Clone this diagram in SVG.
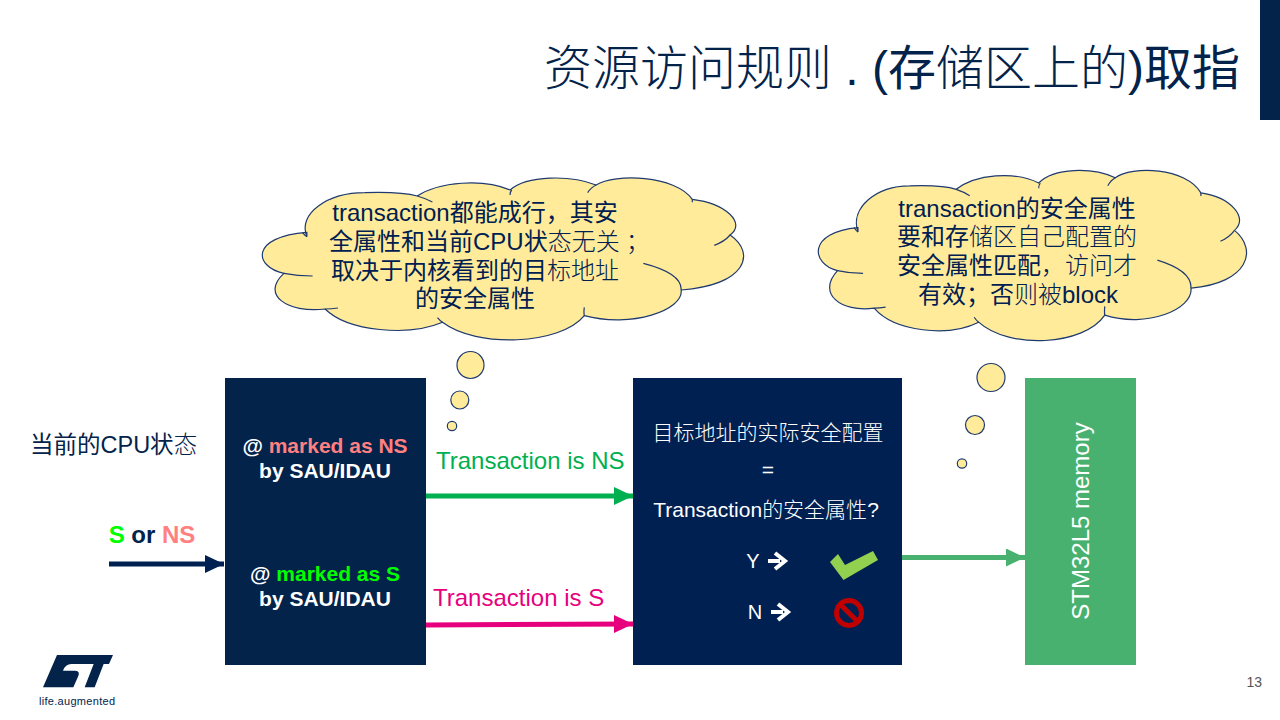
<svg xmlns="http://www.w3.org/2000/svg" xmlns:xlink="http://www.w3.org/1999/xlink" width="1280" height="720" viewBox="0 0 1280 720">
<style>
text{font-family:"Liberation Sans","Noto Sans CJK SC",sans-serif}
.c{font-size:24px;fill:#002052;text-anchor:middle}
.w{fill:#fff;text-anchor:middle}.b{font-weight:700}
.t{font-weight:300}
.cl{fill:#ffeb99;stroke:#1f3a70;stroke-width:1.2px;vector-effect:non-scaling-stroke}
.bu{fill:#ffeb99;stroke:#1f3a70;stroke-width:1.2}
.in{fill:none;stroke:#1f3a70;stroke-width:1.2px;vector-effect:non-scaling-stroke}
.ar{fill:none}
</style>
<defs>
<marker id="hg" markerUnits="userSpaceOnUse" markerWidth="20" markerHeight="20" refX="19" refY="9" orient="auto"><path d="M0 0L19 9L0 18z" fill="#00b050"/></marker>
<marker id="hm" markerUnits="userSpaceOnUse" markerWidth="20" markerHeight="20" refX="19" refY="9" orient="auto"><path d="M0 0L19 9L0 18z" fill="#e6007e"/></marker>
<marker id="hn" markerUnits="userSpaceOnUse" markerWidth="20" markerHeight="20" refX="19" refY="9" orient="auto"><path d="M0 0L19 9L0 18z" fill="#002052"/></marker>
<marker id="hs" markerUnits="userSpaceOnUse" markerWidth="20" markerHeight="20" refX="19" refY="9" orient="auto"><path d="M0 0L19 9L0 18z" fill="#49b170"/></marker>
<g id="cloud">
<path class="cl" d="M178 200C150 130 240 68 350 68C420 66 470 68 505 78C570 35 700 25 780 60C830 15 960 15 1035 45C1090 10 1270 15 1320 88C1420 100 1480 160 1432 195C1510 250 1480 345 1287 360C1295 420 1140 475 1000 437C930 525 680 535 580 457C480 500 300 485 232 417C120 430 40 375 110 310C20 290 10 200 178 187Z"/>
<path class="in" d="M165 187Q170 195 178 200M505 78Q530 85 550 96M780 75Q780 65 785 60M1010 68Q1020 52 1035 45M1320 88L1320 97M1432 195Q1415 215 1385 226M1175 280Q1290 310 1287 360M1000 412Q998 428 1000 437M565 443Q572 452 580 457M232 417Q250 417 270 414M110 310Q150 318 195 318"/>
</g>
</defs>
<rect width="1280" height="720" fill="#fff"/>
<rect x="1260" width="20" height="120" fill="#03234b"/>
<text x="1240" y="85" text-anchor="end" font-size="48" fill="#03234b"><tspan class="t">资源访问规则 . (</tspan><tspan>存</tspan><tspan class="t">储区上的</tspan><tspan>)取指</tspan></text>

<g id="cloud-left">
<use xlink:href="#cloud" transform="translate(246.800 170) scale(.3375 .3333)"/>
<circle class="bu" cx="470.500" cy="365" r="13.500"/><circle class="bu" cx="459.800" cy="400" r="9"/><circle class="bu" cx="452" cy="426" r="4.700"/>
<text class="c"><tspan x="475" y="221">transaction都能成行，其安</tspan><tspan x="329" y="250" text-anchor="start">全属性和当前CPU状<tspan class="t">态无关</tspan><tspan class="t" dx="6">；</tspan></tspan><tspan x="475" y="279">取决于内核看到的目<tspan class="t">标地址</tspan></tspan><tspan x="475" y="307">的安全属性</tspan></text>
</g>
<g id="cloud-right">
<use xlink:href="#cloud" transform="translate(804.500 162) scale(.3003 .3505)"/>
<circle class="bu" cx="991" cy="377.500" r="14"/><circle class="bu" cx="975" cy="425" r="9.500"/><circle class="bu" cx="962" cy="463.500" r="4.700"/>
<text class="c"><tspan x="1017" y="217">transaction的安全属性</tspan><tspan x="1017" y="245">要和存<tspan class="t">储区自己配置的</tspan></tspan><tspan x="1017" y="274">安全属性匹配<tspan class="t">，访问才</tspan></tspan><tspan x="918" y="303" text-anchor="start">有效；否<tspan class="t">则被</tspan>block</tspan></text>
</g>

<g id="cpu-label"><text x="30" y="453" font-size="23.500" fill="#03234b">当前的CPU状<tspan class="t">态</tspan></text></g>
<g id="s-or-ns"><text x="152" y="543" text-anchor="middle" font-size="24" class="b" fill="#03234b"><tspan fill="#00ff00">S</tspan> or <tspan fill="#ff8080">NS</tspan></text></g>

<g id="sau-box">
<rect x="225" y="378" width="201" height="287" fill="#03234b"/>
<text class="w b" font-size="21"><tspan x="325" y="453">@ <tspan fill="#ff8080">marked as NS</tspan></tspan><tspan x="325" y="478">by SAU/IDAU</tspan><tspan x="325" y="581">@ <tspan fill="#00ff00">marked as S</tspan></tspan><tspan x="325" y="606">by SAU/IDAU</tspan></text>
</g>
<g id="check-box">
<rect x="633" y="378" width="269" height="287" fill="#002052"/>
<text class="w" font-size="21"><tspan class="t" x="768" y="440">目标地址的实际安全配置</tspan><tspan x="768" y="477">=</tspan><tspan x="766" y="517">Transaction<tspan class="t">的安全属性</tspan>?</tspan></text>
<text class="w" font-size="20" x="753" y="568">Y</text><text class="w" font-size="20" x="755" y="619">N</text>
<path d="M768 561H780M775 553L785 561L775 569" fill="none" stroke="#fff" stroke-width="4"/>
<path d="M771 612H783M778 604L788 612L778 620" fill="none" stroke="#fff" stroke-width="4"/>
<path d="M830 562L838 554L845 565L873 551L878 560L843.500 580Z" fill="#92d050"/>
<circle cx="849" cy="613" r="12.500" fill="none" stroke="#c00000" stroke-width="5"/>
<path d="M841 605L857 621" stroke="#c00000" stroke-width="5"/>
</g>
<g id="memory">
<rect x="1025" y="378" width="111" height="287" fill="#49b170"/>
<text class="w" font-size="24" transform="translate(1089 521) rotate(-90)">STM32L5 memory</text>
</g>

<g id="connectors" stroke-linecap="butt">
<path class="ar" d="M109 564H224" stroke="#002052" stroke-width="5" marker-end="url(#hn)"/>
<path class="ar" d="M426 496H633" stroke="#00b050" stroke-width="5" marker-end="url(#hg)"/>
<path class="ar" d="M426 625L633 624" stroke="#e6007e" stroke-width="5" marker-end="url(#hm)"/>
<path class="ar" d="M902 557.500H1025" stroke="#49b170" stroke-width="5" marker-end="url(#hs)"/>
</g>
<g id="labels">
<text x="436" y="469" font-size="24" fill="#00b050">Transaction is NS</text>
<text x="433" y="606" font-size="24" fill="#e6007e">Transaction is S</text>
</g>
<g id="logo">
<path transform="translate(38 650) scale(.3333)" fill="#03234b" d="M57 15L225 15L213 42L197 42L170 112L140 112L167 42L100 42Q82 42 75 62L112 62Q128 64 120 80L106 112L15 112Z"/>
<text x="39" y="705" font-size="11" letter-spacing=".3" fill="#03234b">life.augmented</text>
</g>
<text x="1262" y="687" text-anchor="end" font-size="14" fill="#555">13</text>
</svg>
